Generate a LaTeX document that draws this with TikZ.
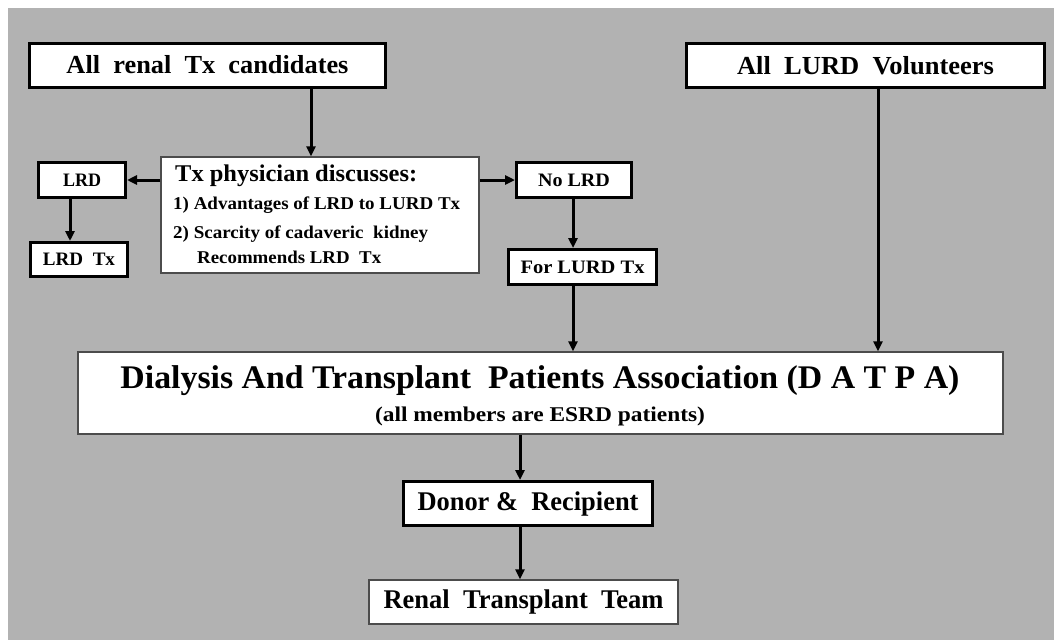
\documentclass[tikz,border=0pt]{standalone}
\usepackage{fontspec}
\setmainfont{Liberation Serif}
\usepackage{graphicx}
\usetikzlibrary{arrows.meta}
\newcommand{\fitw}[2]{\resizebox{#1}{\height}{#2}}
\definecolor{bggray}{HTML}{B2B2B2}
\begin{document}
\begin{tikzpicture}[x=1pt,y=-1pt,
  thickbox/.style={draw=black,line width=3pt,fill=white,inner sep=0pt},
  thinbox/.style={draw=black!70,line width=1.3pt,fill=white,inner sep=0pt},
  arr/.style={line width=3pt,-{Triangle[length=10pt,width=9pt]}},
  lbl/.style={inner sep=0pt,font=\bfseries}]
\useasboundingbox (0,0) rectangle (1054,640);
\fill[white] (0,0) rectangle (1054,640);
\fill[bggray] (8,8) rectangle (1054,640);

% boxes
\node[thickbox,minimum width=356pt,minimum height=44pt] (all) at (207.5,65)
  {\fitw{282pt}{\fontsize{26}{29}\selectfont\bfseries All\ \ renal\ \ Tx\ \ candidates}};
\node[thickbox,minimum width=358pt,minimum height=44pt] (lurd) at (865.5,65.5)
  {\fitw{257pt}{\fontsize{26}{29}\selectfont\bfseries All\ \ LURD\ \ Volunteers}};
\node[thinbox,minimum width=318pt,minimum height=116pt] (phys) at (320,215) {};
\node[thickbox,minimum width=87pt,minimum height=35pt] (lrd) at (82,180)
  {\fitw{38pt}{\fontsize{19}{21}\selectfont\bfseries LRD}};
\node[thickbox,minimum width=97pt,minimum height=34pt] (lrdtx) at (79,259.5)
  {\fitw{72pt}{\fontsize{19}{21}\selectfont\bfseries LRD\ \ Tx}};
\node[thickbox,minimum width=115pt,minimum height=35pt] (nolrd) at (574,180)
  {\fitw{72pt}{\fontsize{19}{21}\selectfont\bfseries No\ LRD}};
\node[thickbox,minimum width=148pt,minimum height=35pt] (forlurd) at (582.5,267)
  {\fitw{124pt}{\fontsize{19}{21}\selectfont\bfseries For\ LURD\ Tx}};
\node[thinbox,minimum width=925pt,minimum height=82pt] (datpa) at (540.5,393) {};
\node[thickbox,minimum width=249pt,minimum height=44pt] (donor) at (528,503.5)
  {\fitw{221pt}{\fontsize{27}{30}\selectfont\bfseries Donor\ \&\ \ Recipient}};
\node[thinbox,minimum width=309pt,minimum height=44pt] (team) at (523.5,602)
  {\fitw{280pt}{\fontsize{27}{30}\selectfont\bfseries Renal\ \ Transplant\ \ Team}};

% physician text
\node[lbl,anchor=base west] (p0) at (175,181)
  {\fitw{242pt}{\fontsize{24}{27}\selectfont\bfseries Tx physician discusses:}};
\node[lbl,anchor=base west] (p1) at (173,209)
  {\fitw{287pt}{\fontsize{18}{20}\selectfont\bfseries 1) Advantages of LRD to LURD Tx}};
\node[lbl,anchor=base west] (p2) at (173,238)
  {\fitw{255pt}{\fontsize{18}{20}\selectfont\bfseries 2) Scarcity of cadaveric\ \ kidney}};
\node[lbl,anchor=base west] (p3) at (197,263)
  {\fitw{184pt}{\fontsize{18}{20}\selectfont\bfseries Recommends LRD\ \ Tx}};

% DATPA text
\node[lbl,anchor=base] (d0) at (540,388)
  {\fitw{839pt}{\fontsize{33}{36}\selectfont\bfseries Dialysis And Transplant\ \ Patients Association (D A T P A)}};
\node[lbl,anchor=base] (d1) at (540,421)
  {\fitw{330pt}{\fontsize{21}{23}\selectfont\bfseries (all members are ESRD patients)}};

% arrow columns
\coordinate (xa) at (311,0);
\coordinate (xl) at (70,0);
\coordinate (xn) at (573,0);
\coordinate (xv) at (878,0);
\coordinate (xd) at (520,0);

\draw[arr] (xa |- all.south) -- (xa |- phys.north);
\draw[arr] (phys.west |- lrd.east) -- (lrd.east);
\draw[arr] (phys.east |- nolrd.west) -- (nolrd.west);
\draw[arr] (xl |- lrd.south) -- (xl |- lrdtx.north);
\draw[arr] (xn |- nolrd.south) -- (xn |- forlurd.north);
\draw[arr] (xn |- forlurd.south) -- (xn |- datpa.north);
\draw[arr] (xv |- lurd.south) -- (xv |- datpa.north);
\draw[arr] (xd |- datpa.south) -- (xd |- donor.north);
\draw[arr] (xd |- donor.south) -- (xd |- team.north);
\end{tikzpicture}
\end{document}
